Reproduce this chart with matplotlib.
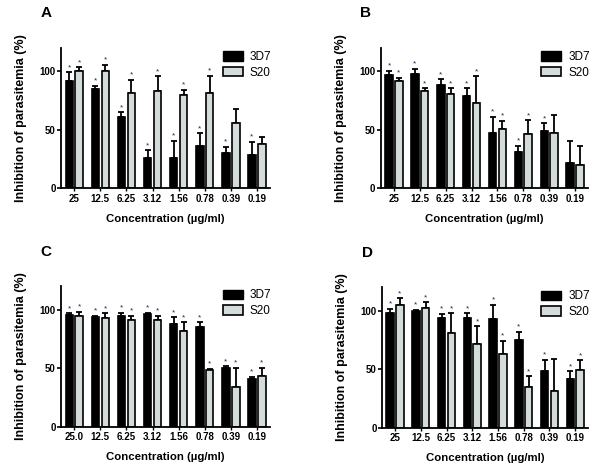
import matplotlib
matplotlib.use("Agg")
import matplotlib.pyplot as plt
import numpy as np

plt.rcParams['font.family'] = ['Liberation Sans', 'DejaVu Sans']

conc = ["25", "12.5", "6.25", "3.12", "1.56", "0.78", "0.39", "0.19"]
conc_c = ["25.0", "12.5", "6.25", "3.12", "1.56", "0.78", "0.39", "0.19"]

# panel A
a_3d7 = [92, 84.5, 61, 25.5, 26, 36, 30, 28.5]
a_3d7_err = [7, 3, 4, 7, 14.5, 11, 5.5, 11]
a_s20 = [100, 100, 81.5, 83.5, 79.5, 81.5, 56, 38]
a_s20_err = [3.5, 5.5, 11, 12, 4.5, 14.5, 11.5, 6]
a_star_3d7 = [1, 1, 1, 1, 1, 1, 1, 1]
a_star_s20 = [1, 1, 1, 1, 1, 1, 0, 0]

# panel B
b_3d7 = [97, 98, 88, 78.5, 47, 31, 48.5, 21.5]
b_3d7_err = [3.5, 4, 5, 7, 14, 5.5, 7, 18.5]
b_s20 = [91.5, 83, 80.5, 72.5, 51, 46, 47, 19.5]
b_s20_err = [3, 2.5, 5, 23, 6.5, 12, 16, 16.5]
b_star_3d7 = [1, 1, 1, 1, 1, 1, 1, 0]
b_star_s20 = [1, 1, 1, 1, 1, 1, 0, 0]

# panel C
c_3d7 = [95.5, 94, 94.5, 96, 88, 85, 50, 41]
c_3d7_err = [1.5, 0.8, 3, 1.5, 5.5, 4, 1.5, 1.5]
c_s20 = [94.5, 92.5, 91.5, 91, 82, 48, 33.5, 43.5]
c_s20_err = [3.5, 4.5, 3, 3.5, 7, 1.5, 17, 7]
c_star_3d7 = [1, 1, 1, 1, 1, 1, 1, 1]
c_star_s20 = [1, 1, 1, 1, 1, 1, 1, 1]

# panel D
d_3d7 = [98.3, 99.5, 93.5, 93.5, 92.5, 75, 48.5, 41.5]
d_3d7_err = [3, 1, 3.5, 4, 12.5, 7, 9.5, 6.5]
d_s20 = [105, 102, 81, 71.5, 62.5, 35, 31, 49]
d_s20_err = [5.5, 5, 16.5, 15, 11.5, 9, 28, 8.5]
d_star_3d7 = [1, 1, 1, 1, 1, 1, 1, 1]
d_star_s20 = [1, 1, 1, 1, 1, 1, 0, 1]

grey = '#d3dbdb'
star_col = '#1a2a5a'


def panel(ax, letter, labels, m1, e1, m2, e2, s1, s2):
    x = np.arange(len(labels))
    w = 0.29
    off = 0.19
    for xs, m, e, s, col in [(x - off, m1, e1, s1, 'black'), (x + off, m2, e2, s2, grey)]:
        ax.bar(xs, m, w, color=col, edgecolor='black', linewidth=1.2, zorder=2)
        ax.errorbar(xs, m, yerr=[np.zeros(len(m)), e], fmt='none', ecolor='black',
                    elinewidth=1.3, capsize=2, capthick=1.3, zorder=1)
        for xi, mi, ei, si in zip(xs, m, e, s):
            if si:
                ax.text(xi, mi + ei + 1, '*', ha='center', va='bottom',
                        fontsize=6, color=star_col)
    ax.bar([0], [0], 0, color='black', edgecolor='black', label='3D7')
    ax.bar([0], [0], 0, color=grey, edgecolor='black', linewidth=1.2, label='S20')
    ax.set_xlim(-0.5, 7.5)
    ax.set_ylim(0, 120)
    ax.set_yticks([0, 50, 100])
    ax.set_xticks(x)
    ax.set_xticklabels(labels, fontweight='bold', fontsize=7)
    for t in ax.get_yticklabels():
        t.set_fontweight('bold')
        t.set_fontsize(7)
    ax.tick_params(axis='y', direction='out', length=3, width=1.2, pad=1)
    ax.tick_params(axis='x', direction='out', length=2, width=1.0, pad=2)
    for sp in ['top', 'right']:
        ax.spines[sp].set_visible(False)
    for sp in ['left', 'bottom']:
        ax.spines[sp].set_linewidth(1.3)
    ax.set_ylabel('Inhibition of parasitemia (%)', fontsize=9, fontweight='bold', labelpad=9)
    ax.set_xlabel('Concentration (\u00b5g/ml)', fontsize=8.2, fontweight='bold', labelpad=7)
    handles, lbls = ax.get_legend_handles_labels()
    ax.legend(handles, lbls, loc='upper left', bbox_to_anchor=(0.75, 1.01), frameon=False,
              fontsize=8.5, handlelength=1.7, handleheight=0.85, handletextpad=0.6,
              labelspacing=0.3, borderaxespad=0)
    ax.text(-0.10, 1.195, letter, transform=ax.transAxes, fontsize=11, fontweight='bold',
            ha='left', va='bottom')


fig = plt.figure(figsize=(6, 4.73), dpi=100)
axA = fig.add_axes([0.102, 0.602, 0.348, 0.297])
axB = fig.add_axes([0.635, 0.602, 0.345, 0.297])
axC = fig.add_axes([0.102, 0.098, 0.348, 0.297])
axD = fig.add_axes([0.637, 0.096, 0.343, 0.297])

panel(axA, 'A', conc, a_3d7, a_3d7_err, a_s20, a_s20_err, a_star_3d7, a_star_s20)
panel(axB, 'B', conc, b_3d7, b_3d7_err, b_s20, b_s20_err, b_star_3d7, b_star_s20)
panel(axC, 'C', conc_c, c_3d7, c_3d7_err, c_s20, c_s20_err, c_star_3d7, c_star_s20)
panel(axD, 'D', conc, d_3d7, d_3d7_err, d_s20, d_s20_err, d_star_3d7, d_star_s20)

fig.savefig('out.png', dpi=100)
plt.close()
